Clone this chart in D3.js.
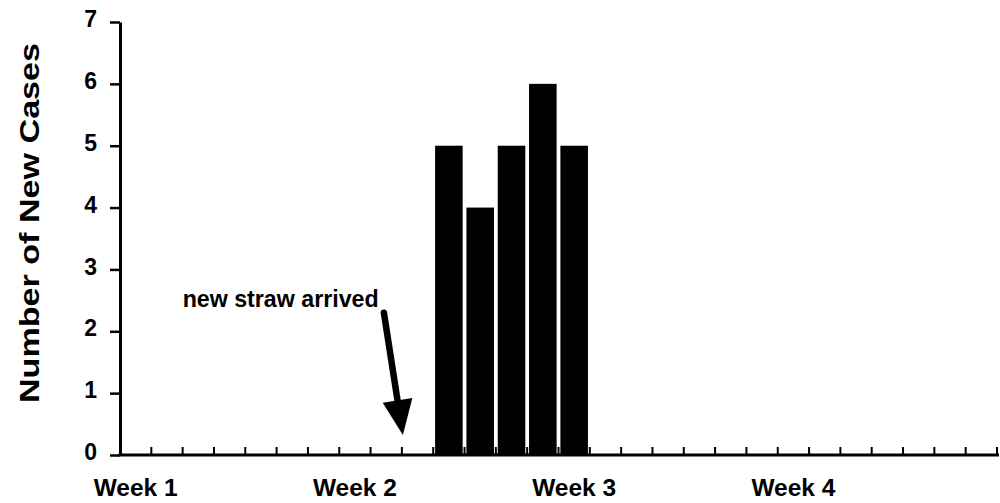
<!DOCTYPE html>
<html>
<head>
<meta charset="utf-8">
<script src="https://cdn.jsdelivr.net/npm/d3@7"></script>
<style>
  html, body { margin: 0; padding: 0; background: #fff; }
  svg { display: block; }
  text { font-family: "Liberation Sans", Arial, sans-serif; font-weight: bold; fill: #000; }
</style>
</head>
<body>
<script>
// ---- data ----
const dayCount = 28;                       // four weeks of days on the x axis
const caseDays = [10, 11, 12, 13, 14];     // day index of each bar
const caseCounts = [5, 4, 5, 6, 5];        // number of new cases
const weekLabels = ["Week 1", "Week 2", "Week 3", "Week 4"];
const weekStartDays = [0, 7, 14, 21];
const yTicks = [0, 1, 2, 3, 4, 5, 6, 7];
const annotationText = "new straw arrived";
const yTitle = "Number of New Cases";

// ---- layout ----
const W = 1000, H = 503;
const plotLeft = 120, plotRight = 997, plotTop = 22, plotBottom = 455;

const svg = d3.select("body").append("svg").attr("width", W).attr("height", H);

const days = d3.range(dayCount);
const x = d3.scaleBand().domain(days).range([plotLeft, plotRight]).paddingInner(0.12).paddingOuter(0.06);
const step = x.step();
const boundary = k => plotLeft + k * step;
const y = d3.scaleLinear().domain([0, 7]).range([plotBottom, plotTop]);

// bars
svg.append("g").selectAll("rect").data(caseDays).join("rect")
  .attr("x", d => x(d))
  .attr("width", x.bandwidth())
  .attr("y", (d, i) => y(caseCounts[i]))
  .attr("height", (d, i) => y(0) - y(caseCounts[i]))
  .attr("fill", "#000");

// y axis
const yAxis = d3.axisLeft(y).tickValues(yTicks).tickFormat(d3.format("d"))
  .tickSize(10).tickPadding(13).tickSizeOuter(0);
const gy = svg.append("g").attr("transform", `translate(${plotLeft},0)`).call(yAxis);
gy.select(".domain").attr("stroke", "#000").attr("stroke-width", 3);
gy.selectAll(".tick line").attr("stroke", "#000").attr("stroke-width", 2.5);
gy.selectAll(".tick text").attr("font-size", 23).attr("dy", "0.2em")
  .style("font-family", "'Liberation Sans', Arial, sans-serif").style("font-weight", "bold");

// x axis baseline with upward day ticks
svg.append("line").attr("x1", plotLeft - 1.5).attr("x2", plotRight + 2)
  .attr("y1", y(0)).attr("y2", y(0)).attr("stroke", "#000").attr("stroke-width", 3);
svg.append("g").selectAll("line").data(d3.range(1, dayCount + 1)).join("line")
  .attr("x1", k => boundary(k)).attr("x2", k => boundary(k))
  .attr("y1", y(0)).attr("y2", y(0) - 8)
  .attr("stroke", "#000").attr("stroke-width", 2);

// week labels
svg.append("g").selectAll("text").data(weekLabels).join("text")
  .attr("x", (d, i) => x(weekStartDays[i]) + x.bandwidth() / 2)
  .attr("y", 496)
  .attr("text-anchor", "middle")
  .attr("font-size", 24)
  .attr("textLength", 84).attr("lengthAdjust", "spacingAndGlyphs")
  .text(d => d);

// y title
svg.append("text")
  .attr("transform", `translate(39,223) rotate(-90)`)
  .attr("text-anchor", "middle")
  .attr("font-size", 28)
  .attr("textLength", 360).attr("lengthAdjust", "spacingAndGlyphs")
  .text(yTitle);

// annotation
svg.append("text")
  .attr("x", boundary(2)).attr("y", y(2.4))
  .attr("font-size", 24)
  .attr("textLength", 196).attr("lengthAdjust", "spacingAndGlyphs")
  .text(annotationText);

const start = [boundary(9) - 18, y(2.3)];
const tip = [boundary(9) + 1, y(0) - 20];
const dx = tip[0] - start[0], dy = tip[1] - start[1];
const len = Math.hypot(dx, dy);
const ux = dx / len, uy = dy / len;
const headLen = 35, headHalf = 15;
const base = [tip[0] - headLen * ux, tip[1] - headLen * uy];
svg.append("line")
  .attr("x1", start[0]).attr("y1", start[1])
  .attr("x2", base[0] + 4 * ux).attr("y2", base[1] + 4 * uy)
  .attr("stroke", "#000").attr("stroke-width", 6.5).attr("stroke-linecap", "round");
svg.append("path")
  .attr("d", d3.line()([
    tip,
    [base[0] - headHalf * uy, base[1] + headHalf * ux],
    [base[0] + headHalf * uy, base[1] - headHalf * ux]
  ]) + "Z")
  .attr("fill", "#000");
</script>
</body>
</html>
